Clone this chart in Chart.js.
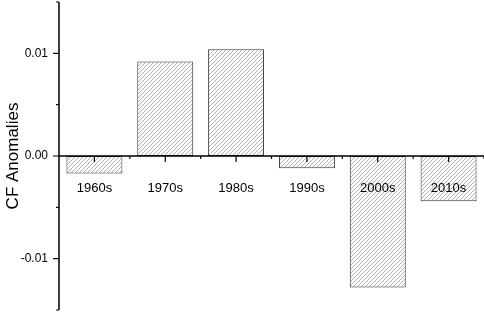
<!DOCTYPE html>
<html>
<head>
    <title>CF Anomalies</title>
    <script src="https://cdn.jsdelivr.net/npm/chart.js"></script>
    <style>
        html, body { margin: 0; padding: 0; background: #fff; }
        #wrap { width: 484px; height: 315px; position: relative; }
    </style>
</head>
<body>
    <div id="wrap"><canvas id="cfChart"></canvas></div>

    <script type="text/javascript">
        // data
        var decades = ['1960s', '1970s', '1980s', '1990s', '2000s', '2010s'];
        var anomalies = [-0.0017, 0.0092, 0.0104, -0.0012, -0.0128, -0.0044];
        var majorTicks = [-0.01, 0, 0.01];
        var minorTicks = [-0.015, -0.005, 0.005, 0.015];

        // hatch fill like the original
        function makeHatch() {
            var c = document.createElement('canvas');
            c.width = 4; c.height = 4;
            var g = c.getContext('2d');
            g.fillStyle = '#fff';
            g.fillRect(0, 0, 4, 4);
            g.strokeStyle = '#b0b0b0';
            g.lineWidth = 1;
            g.beginPath();
            g.moveTo(0, 4); g.lineTo(4, 0);
            g.moveTo(-1, 1); g.lineTo(1, -1);
            g.moveTo(3, 5); g.lineTo(5, 3);
            g.stroke();
            return g.createPattern(c, 'repeat');
        }

        // axis lines + major/minor ticks
        var axesPlugin = {
            id: 'axesPlugin',
            afterDatasetsDraw: function(chart) {
                var ctx = chart.ctx, x = chart.scales.x, y = chart.scales.y;
                var area = chart.chartArea;
                var y0 = y.getPixelForValue(0);
                ctx.save();
                ctx.strokeStyle = '#000';
                ctx.lineWidth = 1.5;
                ctx.beginPath();
                ctx.moveTo(area.left, area.top);
                ctx.lineTo(area.left, area.bottom);
                ctx.moveTo(area.left, y0);
                ctx.lineTo(area.right, y0);
                ctx.stroke();

                ctx.lineWidth = 1.2;
                ctx.beginPath();
                majorTicks.forEach(function(v) {
                    var p = y.getPixelForValue(v);
                    ctx.moveTo(area.left - 6, p); ctx.lineTo(area.left, p);
                });
                minorTicks.forEach(function(v) {
                    var p = y.getPixelForValue(v);
                    ctx.moveTo(area.left - 3, p); ctx.lineTo(area.left, p);
                });
                var half = (x.getPixelForValue(1) - x.getPixelForValue(0)) / 2;
                for (var i = 0; i < decades.length; i++) {
                    var px = x.getPixelForValue(i);
                    ctx.moveTo(px, y0); ctx.lineTo(px, y0 + 6);
                    ctx.moveTo(px + half, y0); ctx.lineTo(px + half, y0 + 3);
                }
                ctx.stroke();
                ctx.restore();
            }
        };

        var ctx = document.getElementById('cfChart').getContext('2d');
        var cfChart = new Chart(ctx, {
            type: 'bar',
            data: {
                labels: decades,
                datasets: [{
                    data: anomalies,
                    backgroundColor: makeHatch(),
                    borderColor: '#333',
                    borderWidth: 1,
                    borderSkipped: false,
                    categoryPercentage: 1,
                    barPercentage: 0.79
                }]
            },
            options: {
                responsive: true,
                maintainAspectRatio: false,
                animation: false,
                layout: { padding: { top: 2, bottom: 5, left: 0, right: 0 } },
                plugins: { legend: { display: false }, tooltip: { enabled: false } },
                scales: {
                    x: {
                        position: { y: 0 },
                        grid: { display: false, drawTicks: false },
                        border: { display: false },
                        ticks: {
                            z: 1,
                            color: '#000',
                            padding: 25,
                            maxRotation: 0,
                            autoSkip: false,
                            font: { family: 'Liberation Sans, Arial', size: 13 }
                        },
                        afterFit: function(s) { s.height = 0; s.paddingLeft = 0; s.paddingRight = 0; }
                    },
                    y: {
                        min: -0.015,
                        max: 0.015,
                        grid: { display: false, drawTicks: false },
                        border: { display: false },
                        ticks: {
                            stepSize: 0.005,
                            color: '#000',
                            padding: 11,
                            font: { family: 'Liberation Sans, Arial', size: 12 },
                            callback: function(v) {
                                var m = majorTicks.find(function(t) { return Math.abs(t - v) < 1e-9; });
                                return m === undefined ? '' : m.toFixed(2);
                            }
                        },
                        title: {
                            display: true,
                            text: 'CF Anomalies',
                            color: '#000',
                            padding: { top: 3, bottom: 0 },
                            font: { family: 'Liberation Sans, Arial', size: 17 }
                        },
                        afterFit: function(s) { s.width = 59; s.paddingTop = 0; s.paddingBottom = 0; }
                    }
                }
            },
            plugins: [axesPlugin]
        });
    </script>
</body>
</html>
